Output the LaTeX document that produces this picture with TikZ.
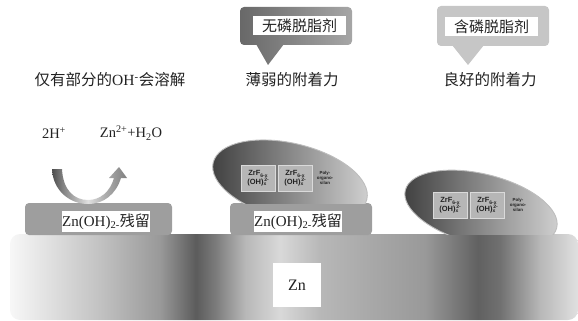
\documentclass[tikz,border=0pt]{standalone}
\usepackage{fontspec}
\setmainfont{Liberation Serif}
\newfontfamily\cjk{Noto Sans CJK SC}
\newfontfamily\lsans{Liberation Sans}

% palette
\definecolor{ink}{HTML}{222222}
\definecolor{coL}{HTML}{686868}
\definecolor{coR}{HTML}{A6A6A6}
\definecolor{calloutlight}{HTML}{C6C6C6}
\definecolor{resgray}{HTML}{9E9E9E}
\definecolor{blobL}{HTML}{3E3E3E}
\definecolor{blobR}{HTML}{D2D2D2}
\definecolor{blobline}{HTML}{BDBDBD}
\definecolor{zrfill}{HTML}{B6B6B6}
\definecolor{zredge}{HTML}{DADADA}

% zinc substrate: banded metallic gradient
\definecolor{zA}{gray}{0.97}
\definecolor{zB}{gray}{0.90}
\definecolor{zC}{gray}{0.76}
\definecolor{zD}{gray}{0.60}
\definecolor{zE}{gray}{0.36}
\definecolor{zF}{gray}{0.48}
\definecolor{zG}{gray}{0.72}
\definecolor{zH}{gray}{0.85}
\definecolor{zI}{gray}{0.72}
\definecolor{zJ}{gray}{0.66}
\definecolor{zK}{gray}{0.60}
\definecolor{zL}{gray}{0.38}
\definecolor{zM}{gray}{0.44}
\definecolor{zN}{gray}{0.72}
\definecolor{zO}{gray}{0.88}
\pgfdeclarehorizontalshading{zinc}{100bp}{color(0bp)=(zA); color(25bp)=(zA);
  color(27.64bp)=(zB); color(32.92bp)=(zC); color(38.2bp)=(zD);
  color(41.37bp)=(zE); color(43.05bp)=(zF); color(45.69bp)=(zG);
  color(48.77bp)=(zH); color(52.29bp)=(zI); color(56.69bp)=(zJ);
  color(61.53bp)=(zK); color(66.2bp)=(zL); color(68.13bp)=(zM);
  color(71.65bp)=(zN); color(75bp)=(zO); color(100bp)=(zO)}

% curved dissolution arrow
\definecolor{aA}{gray}{0.30}
\definecolor{aB}{gray}{0.50}
\definecolor{aC}{gray}{0.88}
\definecolor{aD}{gray}{0.68}
\definecolor{aE}{gray}{0.50}
\pgfdeclarehorizontalshading{arrowshade}{100bp}{color(0bp)=(aA); color(25bp)=(aA);
  color(31.7bp)=(aB); color(49bp)=(aC); color(60.3bp)=(aD);
  color(75bp)=(aE); color(100bp)=(aE)}

% small raised/lowered indices for the film labels
\newcommand{\lowidx}[1]{\raisebox{-1.6pt}{\fontsize{5}{5}\selectfont #1}}
\newcommand{\highidx}[1]{\raisebox{2.6pt}{\fontsize{5}{5}\selectfont #1}}
\newcommand{\zrlabel}{ZrF\lowidx{6-x}\\[-0.5pt](OH)\lowidx{x}\kern-2pt\highidx{2-}}

\begin{document}
\begin{tikzpicture}[x=1pt, y=-1pt,
  every node/.style={inner sep=0pt, outer sep=0pt, text=ink},
  cjktext/.style={font=\cjk\fontsize{15.5}{18}\selectfont},
  latin/.style={font=\fontsize{14.5}{17}\selectfont},
  tag/.style={fill=white, minimum height=19pt, minimum width=93pt,
    font=\cjk\fontsize{15}{18}\selectfont},
  residue/.style={fill=resgray, rounded corners=4pt, minimum height=32pt},
  reslabel/.style={fill=white, minimum width=88pt, minimum height=21pt,
    font=\fontsize{15}{18}\selectfont},
  zrbox/.style={fill=zrfill, draw=zredge, line width=1pt, minimum width=34pt,
    minimum height=26pt, align=center, font=\lsans\bfseries\fontsize{7.5}{9}\selectfont},
  polytxt/.style={align=center, text=ink, font=\lsans\bfseries\fontsize{4.4}{5}\selectfont},
  blobedge/.style={draw=blobline, line width=0.9pt}]
\useasboundingbox (0,0) rectangle (578,321);

% zinc substrate
\shade[shading=zinc, rounded corners=10pt] (10,234) rectangle (578,320);
\node[fill=white, minimum width=48pt, minimum height=44pt,
  font=\fontsize{16}{19}\selectfont] (zn) at (297,285) {Zn};

% hydroxide residue layers
\node[residue, minimum width=147pt] (res1) at (98.5,219) {};
\node[reslabel] (rl1) at (106,221.5) {Zn(OH)\textsubscript{2-}{\cjk 残留}};
\node[residue, minimum width=142pt] (res2) at (301,219) {};
\node[reslabel] (rl2) at (298,221.5) {Zn(OH)\textsubscript{2-}{\cjk 残留}};

% conversion film on the residue
\begin{scope}
  \clip (150,100) rectangle (420,203);
  \begin{scope}[rotate around={-13.5:(290,181)}]
    \shade[left color=blobL, right color=blobR] (290,181) ellipse [x radius=79pt, y radius=37.7pt];
    \draw[blobedge] (290,181) ellipse [x radius=79pt, y radius=37.7pt];
  \end{scope}
\end{scope}
\node[zrbox] (zr1) at (258,178) {\zrlabel};
\node[zrbox] (zr2) at (295,178) {\zrlabel};
\node[polytxt] (poly1) at (325,178) {Poly-\\organo-\\silan};

% conversion film on bare zinc
\begin{scope}
  \clip (380,150) rectangle (578,234);
  \begin{scope}[rotate around={-14:(481,209)}]
    \shade[left color=blobL, right color=blobR] (481,209) ellipse [x radius=78pt, y radius=35pt];
    \draw[blobedge] (481,209) ellipse [x radius=78pt, y radius=35pt];
  \end{scope}
\end{scope}
\node[zrbox] (zr3) at (450,205) {\zrlabel};
\node[zrbox] (zr4) at (487,205) {\zrlabel};
\node[polytxt] (poly2) at (518,205) {Poly-\\organo-\\silan};

% dissolution arrow
\shade[shading=arrowshade] (52,169) .. controls (53,191) and (70,204) .. (88,204)
  .. controls (104,204) and (116,194) .. (121,178) -- (127,178) -- (119,167)
  -- (109,178) -- (114,178) .. controls (110,192) and (100,200) .. (88,200)
  .. controls (74,200) and (63,190) .. (62,169) -- cycle;
\node[latin] (hplus) at (54,133) {2H\textsuperscript{+}};
\node[latin] (znion) at (131,133) {Zn\textsuperscript{2+}+H\textsubscript{2}O};

% captions
\node[cjktext] (cap1) at (110,80) {仅有部分的{\fontspec{Liberation Serif}OH\textsuperscript{-}}会溶解};
\node[cjktext] (cap2) at (292,80) {薄弱的附着力};
\node[cjktext] (cap3) at (490,80) {良好的附着力};

% degreaser callouts
\shade[left color=coL, right color=coR] [rounded corners=4pt]
  (240,7) -- (352,7) -- (352,45) -- (240,45) -- cycle
  [sharp corners] (256,44) -- (284,44) -- (268,65) -- cycle;
\node[tag] (tag1) at (299.5,26) {无磷脱脂剂};
\fill[calloutlight] [rounded corners=4pt]
  (437,6) -- (549,6) -- (549,46) -- (437,46) -- cycle
  [sharp corners] (452,45) -- (484,45) -- (468,65) -- cycle;
\node[tag] (tag2) at (491.5,26.5) {含磷脱脂剂};
\end{tikzpicture}
\end{document}
